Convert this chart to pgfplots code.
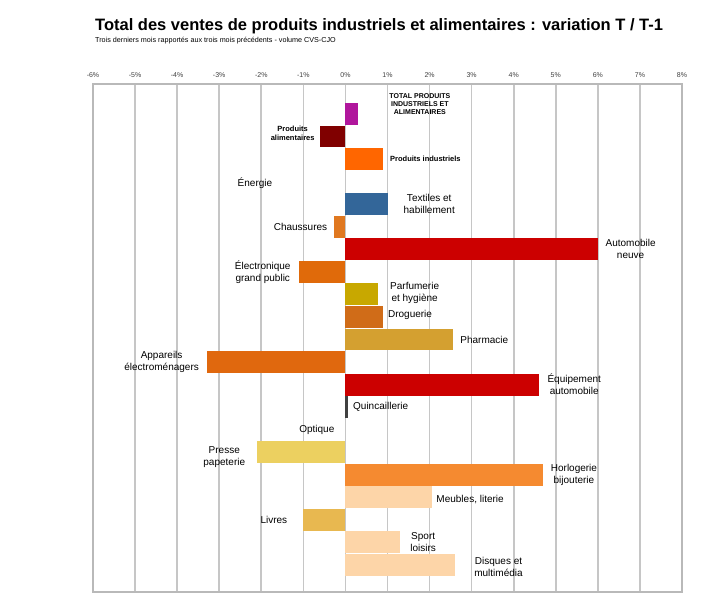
\documentclass[border=0pt]{standalone}
\usepackage{pgfplots}
\pgfplotsset{compat=1.18}
\usepackage{fontspec}
\setmainfont{Liberation Sans}
\definecolor{cTot}{HTML}{B0169C}
\definecolor{cAlim}{HTML}{800000}
\definecolor{cInd}{HTML}{FF6600}
\definecolor{cTex}{HTML}{336699}
\definecolor{cCha}{HTML}{E07820}
\definecolor{cAut}{HTML}{CC0000}
\definecolor{cEle}{HTML}{E06A0A}
\definecolor{cPar}{HTML}{C8A800}
\definecolor{cDro}{HTML}{D06C18}
\definecolor{cPha}{HTML}{D4A030}
\definecolor{cApp}{HTML}{E0680E}
\definecolor{cEqu}{HTML}{CC0000}
\definecolor{cQui}{HTML}{404040}
\definecolor{cPre}{HTML}{ECD060}
\definecolor{cHor}{HTML}{F58A30}
\definecolor{cMeu}{HTML}{FDD5A8}
\definecolor{cLiv}{HTML}{E8B850}
\definecolor{cSpo}{HTML}{FDD5A8}
\definecolor{cDis}{HTML}{FDD5A8}
\begin{document}
\begin{tikzpicture}
\path[use as bounding box] (-93pt,-11pt) rectangle (620pt,592pt);
\node[anchor=west,font=\bfseries\fontsize{16.5}{18}\selectfont,inner sep=0pt] at (2pt,566pt) {Total des ventes de produits industriels et alimentaires : variation T / T-1};
\node[anchor=west,font=\fontsize{7.2}{8}\selectfont,inner sep=0pt] at (2pt,551pt) {Trois derniers mois rapportés aux trois mois précédents - volume CVS-CJO};
\begin{axis}[
  at={(0pt,0pt)}, anchor=south west,
  scale only axis, width=589pt, height=508pt,
  xmin=-6, xmax=8, ymin=-1.33, ymax=21.2,
  y dir=reverse,
  xtick={-6,-5,...,8}, ytick=\empty,
  xticklabel pos=upper,
  xticklabel={\pgfmathprintnumber{\tick}\%},
  /pgf/number format/assume math mode=true,
  xticklabel style={font=\fontsize{7}{8}\selectfont, text=black!75, yshift=3pt},
  major tick length=0pt,
  xmajorgrids,
  grid style={draw=gray!45, line width=1.6pt},
  axis line style={draw=gray!55, line width=1.2pt},
  clip=false,
  every node/.style={font=\fontsize{7.5}{8.5}\selectfont, inner sep=1pt},
]
\addplot[xbar, bar shift=0pt, bar width=0.97, fill=cTot, draw=none] coordinates {(0.3,0)};
\addplot[xbar, bar shift=0pt, bar width=0.97, fill=cAlim, draw=none] coordinates {(-0.6,1)};
\addplot[xbar, bar shift=0pt, bar width=0.97, fill=cInd, draw=none] coordinates {(0.9,2)};
\addplot[xbar, bar shift=0pt, bar width=0.97, fill=cTex, draw=none] coordinates {(1.0,4)};
\addplot[xbar, bar shift=0pt, bar width=0.97, fill=cCha, draw=none] coordinates {(-0.27,5)};
\addplot[xbar, bar shift=0pt, bar width=0.97, fill=cAut, draw=none] coordinates {(6.0,6)};
\addplot[xbar, bar shift=0pt, bar width=0.97, fill=cEle, draw=none] coordinates {(-1.1,7)};
\addplot[xbar, bar shift=0pt, bar width=0.97, fill=cPar, draw=none] coordinates {(0.77,8)};
\addplot[xbar, bar shift=0pt, bar width=0.97, fill=cDro, draw=none] coordinates {(0.9,9)};
\addplot[xbar, bar shift=0pt, bar width=0.97, fill=cPha, draw=none] coordinates {(2.55,10)};
\addplot[xbar, bar shift=0pt, bar width=0.97, fill=cApp, draw=none] coordinates {(-3.3,11)};
\addplot[xbar, bar shift=0pt, bar width=0.97, fill=cEqu, draw=none] coordinates {(4.6,12)};
\addplot[xbar, bar shift=0pt, bar width=0.97, fill=cQui, draw=none] coordinates {(0.05,13)};
\addplot[xbar, bar shift=0pt, bar width=0.97, fill=cPre, draw=none] coordinates {(-2.1,15)};
\addplot[xbar, bar shift=0pt, bar width=0.97, fill=cHor, draw=none] coordinates {(4.7,16)};
\addplot[xbar, bar shift=0pt, bar width=0.97, fill=cMeu, draw=none] coordinates {(2.05,17)};
\addplot[xbar, bar shift=0pt, bar width=0.97, fill=cLiv, draw=none] coordinates {(-1.0,18)};
\addplot[xbar, bar shift=0pt, bar width=0.97, fill=cSpo, draw=none] coordinates {(1.3,19)};
\addplot[xbar, bar shift=0pt, bar width=0.97, fill=cDis, draw=none] coordinates {(2.6,20)};
% labels
\node[align=center, font=\bfseries\fontsize{7}{8}\selectfont] at (axis cs:1.77,-0.45) {TOTAL PRODUITS\\INDUSTRIELS ET\\ALIMENTAIRES};
\node[anchor=east, align=center, font=\bfseries\fontsize{7.5}{8.5}\selectfont] at (axis cs:-0.65,0.85) {Produits\\alimentaires};
\node[anchor=west, font=\bfseries\fontsize{7.5}{8.5}\selectfont] at (axis cs:0.98,2) {Produits industriels};
\node at (axis cs:-2.15,3.05) {Énergie};
\node[anchor=west, align=center] at (axis cs:1.3,4) {Textiles et\\habillement};
\node[anchor=east] at (axis cs:-0.35,5) {Chaussures};
\node[anchor=west, align=center] at (axis cs:6.1,6) {Automobile\\neuve};
\node[anchor=east, align=center] at (axis cs:-1.22,7) {Électronique\\grand public};
\node[anchor=west, align=center] at (axis cs:0.98,7.95) {Parfumerie\\et hygiène};
\node[anchor=west] at (axis cs:0.93,8.9) {Droguerie};
\node[anchor=west] at (axis cs:2.65,10) {Pharmacie};
\node[anchor=east, align=center] at (axis cs:-3.4,11) {Appareils\\électroménagers};
\node[anchor=west, align=center] at (axis cs:4.72,12) {Équipement\\automobile};
\node[anchor=west] at (axis cs:0.1,13) {Quincaillerie};
\node[anchor=east] at (axis cs:-0.18,14) {Optique};
\node[anchor=east, align=center] at (axis cs:-2.3,15.2) {Presse\\papeterie};
\node[anchor=west, align=center] at (axis cs:4.8,16) {Horlogerie\\bijouterie};
\node[anchor=west] at (axis cs:2.08,17.1) {Meubles, literie};
\node[anchor=east] at (axis cs:-1.3,18) {Livres};
\node[anchor=west, align=center] at (axis cs:1.46,19) {Sport\\loisirs};
\node[anchor=west, align=center] at (axis cs:2.98,20.1) {Disques et\\multimédia};
\end{axis}
\end{tikzpicture}
\end{document}
